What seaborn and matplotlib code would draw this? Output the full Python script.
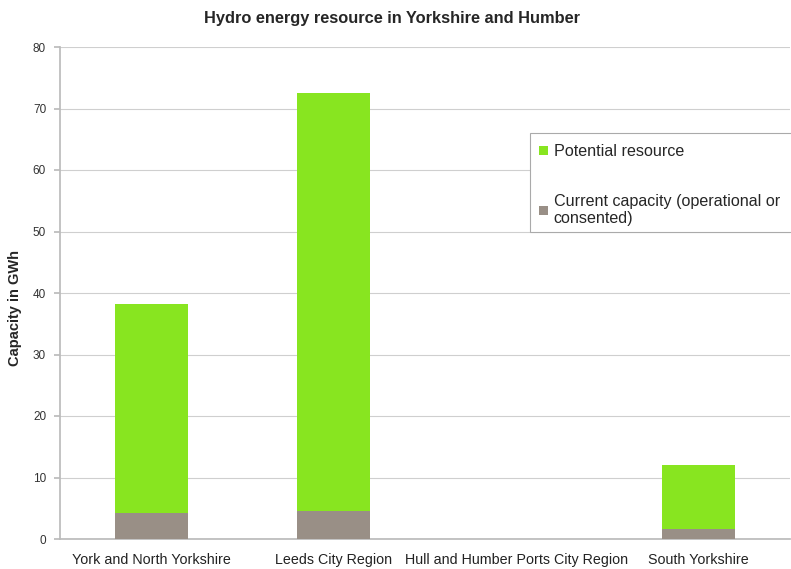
import matplotlib
matplotlib.use("Agg")
import matplotlib.pyplot as plt
import seaborn as sns
import pandas as pd
from matplotlib.patches import Patch, Rectangle

categories = ["York and North Yorkshire", "Leeds City Region",
              "Hull and Humber Ports City Region", "South Yorkshire"]
current = [4.3, 4.5, 0.0, 1.6]
potential = [33.9, 68.1, 0.0, 10.4]
yticks = [0, 10, 20, 30, 40, 50, 60, 70, 80]

green = "#88E520"
grey = "#998F86"

sns.set_theme(style="white")
plt.rcParams["font.family"] = ["Liberation Sans", "DejaVu Sans"]

df = pd.DataFrame({"region": categories,
                   "current": current,
                   "total": [c + p for c, p in zip(current, potential)]})

fig = plt.figure(figsize=(7.91, 5.69), dpi=100)
ax = fig.add_axes([60 / 791, 30 / 569, 730 / 791, 492 / 569])

sns.barplot(data=df, x="region", y="total", color=green, width=0.4,
            saturation=1, ax=ax, edgecolor="none", zorder=3)
sns.barplot(data=df, x="region", y="current", color=grey, width=0.4,
            saturation=1, ax=ax, edgecolor="none", zorder=3)

ax.set_ylim(0, 80)
ax.set_xlim(-0.5, 3.5)
ax.set_yticks(yticks)
ax.set_yticklabels([str(v) for v in yticks], fontsize=8.5, color="#333333")
ax.yaxis.grid(True, color="#cfcfcf", linewidth=0.8, zorder=0)
ax.set_axisbelow(True)

ax.set_xticks(range(len(categories)))
ax.set_xticklabels(categories, fontsize=10.3, color="#222222")
ax.tick_params(axis="x", length=0, pad=10)
ax.set_xticks([0.5, 1.5, 2.5, 3.5], minor=True)
ax.tick_params(axis="x", which="minor", length=5, color="#bbbbbb", width=1)
ax.tick_params(axis="y", length=4, color="#bbbbbb", left=True, pad=6)

for s in ["top", "right"]:
    ax.spines[s].set_visible(False)
ax.spines["left"].set_color("#bbbbbb")
ax.spines["bottom"].set_color("#bbbbbb")

ax.set_xlabel("")
ax.set_ylabel("Capacity in GWh", fontsize=10.5, fontweight="bold")
ax.yaxis.set_label_coords(-0.052, 0.47)
fig.text(392 / 791, 1 - 18 / 569, "Hydro energy resource in Yorkshire and Humber",
         ha="center", va="center", fontsize=11.8, fontweight="bold")

# legend frame (extends past the right edge, as in the reference)
fig.patches.append(Rectangle((530 / 791, 1 - 232 / 569), 300 / 791, 99 / 569,
                             transform=fig.transFigure, facecolor="white",
                             edgecolor="#aaaaaa", linewidth=0.8, zorder=5))

handles = [Patch(facecolor=green, edgecolor="none"),
           Patch(facecolor=grey, edgecolor="none")]
labels = ["Potential resource", "Current capacity (operational or\nconsented)"]
leg = fig.legend(handles, labels, loc="upper left",
                 bbox_to_anchor=(536 / 791, 1 - 141 / 569),
                 fontsize=11.6, frameon=False,
                 handlelength=0.55, handleheight=0.55, handletextpad=0.35,
                 labelspacing=2.15, borderpad=0.2, borderaxespad=0)
leg.set_zorder(6)

fig.savefig("out.png", dpi=100)
